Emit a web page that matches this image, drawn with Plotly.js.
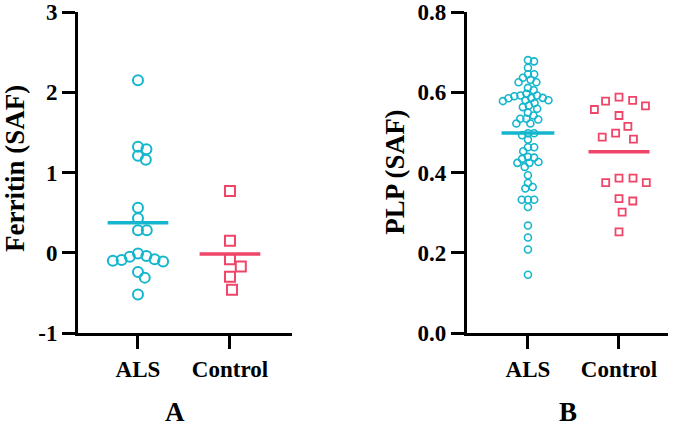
<!DOCTYPE html>
<html>
<head>
<meta charset="utf-8">
<script src="https://cdn.plot.ly/plotly-3.0.1.min.js"></script>
<style>html,body{margin:0;padding:0;background:#fff}</style>
</head>
<body>
<div id="chart" style="width:683px;height:430px"></div>
<script>
// groups on the x axis
let groups = ["ALS", "Control"]

// panel A - ferritin (SAF)
let ferritin_als = [2.15, 1.32, 1.29, 1.21, 1.16, 0.56, 0.43, 0.28, 0.28, -0.01, -0.04, -0.05, -0.08, -0.10, -0.11, -0.09, -0.24, -0.31, -0.52]
let ferritin_ctrl = [0.77, 0.15, -0.08, -0.17, -0.30, -0.46]
let ferritin_ticks = [-1, 0, 1, 2, 3]

// panel B - PLP (SAF)
let plp_als = [0.680, 0.677, 0.661, 0.645, 0.645, 0.636, 0.631, 0.625, 0.625, 0.611,
  0.605, 0.596, 0.592, 0.592, 0.590, 0.585, 0.586, 0.586, 0.580, 0.580,
  0.578, 0.573, 0.567, 0.563, 0.559, 0.549, 0.542, 0.534, 0.534, 0.532,
  0.522, 0.522, 0.493, 0.498, 0.498, 0.482, 0.463, 0.463, 0.453, 0.439,
  0.437, 0.434, 0.426, 0.424, 0.424, 0.414, 0.393, 0.374, 0.364, 0.360,
  0.332, 0.332, 0.332, 0.314, 0.268, 0.238, 0.208, 0.145]
let plp_ctrl = [0.588, 0.580, 0.578, 0.566, 0.557, 0.542, 0.515, 0.488, 0.498, 0.483,
  0.375, 0.375, 0.386, 0.386, 0.335, 0.329, 0.301, 0.252]
let plp_ticks = [0, 0.2, 0.4, 0.6, 0.8]

let cyan = "#14b6cd"
let pink = "#ef4568"
let serif = "Liberation Serif, Times New Roman, serif"

function mean(a) {
  return a.reduce((s, v) => s + v, 0) / a.length
}

// simple beeswarm: spread points sideways so they don't overlap (pixel units)
function swarm(vals, pxPerY, pxPerX, d) {
  let order = vals.map((v, i) => i).sort((a, b) => vals[b] - vals[a])
  let placed = []
  let off = new Array(vals.length).fill(0)
  order.forEach(i => {
    let y = vals[i] * pxPerY
    let near = placed.filter(p => Math.abs(p.y - y) < d)
    let cands = [0]
    near.forEach(p => {
      let dx = Math.sqrt(d * d - (p.y - y) ** 2)
      cands.push(p.x + dx, p.x - dx)
    })
    cands.sort((a, b) => Math.abs(a) - Math.abs(b))
    let x = cands.find(c => near.every(p => (p.x - c) ** 2 + (p.y - y) ** 2 >= d * d - 1e-6))
    placed.push({x: x, y: y})
    off[i] = x / pxPerX
  })
  return off
}

function dots(vals, pos, pxPerY, pxPerX, d, symbol, size, lw, color, xa, ya) {
  let off = swarm(vals, pxPerY, pxPerX, d)
  return {
    x: off.map(o => pos + o),
    y: vals,
    xaxis: xa, yaxis: ya,
    mode: "markers",
    type: "scatter",
    marker: {symbol: symbol, size: size, color: color, line: {color: color, width: lw}},
    hoverinfo: "y"
  }
}

function meanLine(vals, pos, half, color, xa, ya) {
  let m = mean(vals)
  return {
    x: [pos - half, pos + half],
    y: [m, m],
    xaxis: xa, yaxis: ya,
    mode: "lines",
    type: "scatter",
    line: {color: color, width: 3.5},
    hoverinfo: "y"
  }
}

// px per unit (plot area is 321 px tall)
let pyA = 321 / 4
let pyB = 321 / 0.8

let data = [
  dots(ferritin_als, 0, pyA, 92, 8.8, "circle-open", 10, 2, cyan, "x", "y"),
  dots(ferritin_ctrl, 1, pyA, 92, 13, "square-open", 10, 2, pink, "x", "y"),
  meanLine(ferritin_als, 0, 0.33, cyan, "x", "y"),
  meanLine(ferritin_ctrl, 1, 0.33, pink, "x", "y"),
  dots(plp_als, 0, pyB, 91, 6.2, "circle-open", 7, 1.6, cyan, "x2", "y2"),
  dots(plp_ctrl, 1, pyB, 91, 14, "square-open", 7, 1.8, pink, "x2", "y2"),
  meanLine(plp_als, 0, 0.29, cyan, "x2", "y2"),
  meanLine(plp_ctrl, 1, 0.335, pink, "x2", "y2")
]

let tickFont = {family: serif, size: 23, color: "#000"}

let axisStyle = {
  showline: true, linewidth: 3, linecolor: "#000",
  ticks: "outside", ticklen: 13, tickwidth: 3, tickcolor: "#000",
  showgrid: false, zeroline: false, fixedrange: true,
  tickfont: tickFont
}

function label(text, x, y, size, angle) {
  return {text: "<b>" + text + "</b>", xref: "paper", yref: "paper", x: x, y: y,
    xanchor: "center", yanchor: "middle", textangle: angle, showarrow: false,
    font: {family: serif, size: size, color: "#000"}}
}

let layout = {
  width: 683, height: 430,
  margin: {l: 0, r: 0, t: 12, b: 97},
  paper_bgcolor: "#fff", plot_bgcolor: "#fff",
  font: {family: serif},
  showlegend: false,
  xaxis: Object.assign({}, axisStyle, {domain: [0.1142, 0.4275], range: [-0.652, 1.674],
    tickvals: [0, 1], ticktext: groups.map(g => "<b>" + g + "</b>"), anchor: "y"}),
  yaxis: Object.assign({}, axisStyle, {range: [-1, 3], tickvals: ferritin_ticks,
    ticktext: ferritin_ticks.map(t => "<b>" + String(t) + "</b>"), anchor: "x"}),
  xaxis2: Object.assign({}, axisStyle, {domain: [0.6837, 0.978], range: [-0.670, 1.538],
    tickvals: [0, 1], ticktext: groups.map(g => "<b>" + g + "</b>"), anchor: "y2"}),
  yaxis2: Object.assign({}, axisStyle, {range: [0, 0.8], tickvals: plp_ticks,
    ticktext: plp_ticks.map(t => "<b>" + t.toFixed(1) + "</b>"), anchor: "x2"}),
  annotations: [
    label("Ferritin (SAF)", 0.022, 0.511, 27, -90),
    label("PLP (SAF)", 0.578, 0.502, 27, -90),
    label("A", 0.256, -0.246, 27, 0),
    label("B", 0.832, -0.246, 27, 0)
  ]
}

Plotly.newPlot("chart", data, layout, {displayModeBar: false, staticPlot: true})
</script>
</body>
</html>
